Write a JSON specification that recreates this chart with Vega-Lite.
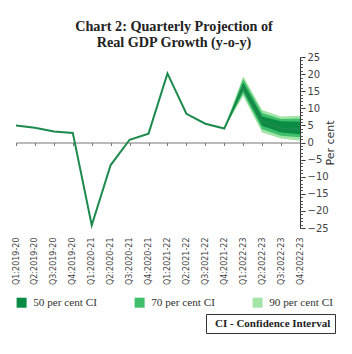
{
  "$schema": "https://vega.github.io/schema/vega-lite/v6.json",
  "width": 284,
  "height": 171,
  "padding": {"left": 12, "top": 19, "right": 0, "bottom": 0},
  "autosize": {"type": "pad"},
  "background": "white",
  "title": {
    "text": ["Chart 2: Quarterly Projection of", "Real GDP Growth (y-o-y)"],
    "font": "Liberation Serif",
    "fontWeight": "bold",
    "fontSize": 14.2,
    "lineHeight": 16,
    "color": "#222222",
    "anchor": "middle",
    "frame": "group",
    "dx": 16,
    "offset": 2
  },
  "data": {
    "values": [
      {"q": "Q1:2019-20", "v": 5.0},
      {"q": "Q2:2019-20", "v": 4.3},
      {"q": "Q3:2019-20", "v": 3.2},
      {"q": "Q4:2019-20", "v": 2.8},
      {"q": "Q1:2020-21", "v": -24.2},
      {"q": "Q2:2020-21", "v": -6.6},
      {"q": "Q3:2020-21", "v": 0.8},
      {"q": "Q4:2020-21", "v": 2.6},
      {"q": "Q1:2021-22", "v": 20.2},
      {"q": "Q2:2021-22", "v": 8.4},
      {"q": "Q3:2021-22", "v": 5.5},
      {"q": "Q4:2021-22", "v": 4.1, "l90": 4.1, "h90": 4.1, "l70": 4.1, "h70": 4.1, "l50": 4.1, "h50": 4.1},
      {"q": "Q1:2022-23", "v": 16.2, "l90": 13.6, "h90": 19.4, "l70": 14.4, "h70": 18.6, "l50": 15.2, "h50": 17.5},
      {"q": "Q2:2022-23", "v": 6.2, "l90": 2.9, "h90": 9.5, "l70": 3.9, "h70": 8.6, "l50": 4.9, "h50": 7.6},
      {"q": "Q3:2022-23", "v": 4.1, "l90": 1.2, "h90": 7.6, "l70": 2.0, "h70": 6.9, "l50": 2.9, "h50": 6.2},
      {"q": "Q4:2022-23", "v": 4.0, "l90": 0.5, "h90": 7.8, "l70": 1.5, "h70": 7.0, "l50": 2.4, "h50": 6.1}
    ]
  },
  "layer": [
    {
      "mark": {"type": "area", "opacity": 1},
      "encoding": {
        "x": {"field": "q", "type": "nominal", "axis": null, "scale": {"type": "point", "padding": 0, "domain": ["Q1:2019-20","Q2:2019-20","Q3:2019-20","Q4:2019-20","Q1:2020-21","Q2:2020-21","Q3:2020-21","Q4:2020-21","Q1:2021-22","Q2:2021-22","Q3:2021-22","Q4:2021-22","Q1:2022-23","Q2:2022-23","Q3:2022-23","Q4:2022-23"]}},
        "y": {"field": "l90", "type": "quantitative", "axis": null, "scale": {"domain": [-25, 25], "nice": false}},
        "y2": {"field": "h90"},
        "color": {"datum": "90 per cent CI"}
      }
    },
    {
      "mark": {"type": "area", "opacity": 1},
      "encoding": {
        "x": {"field": "q", "type": "nominal", "axis": null, "scale": {"type": "point", "padding": 0, "domain": ["Q1:2019-20","Q2:2019-20","Q3:2019-20","Q4:2019-20","Q1:2020-21","Q2:2020-21","Q3:2020-21","Q4:2020-21","Q1:2021-22","Q2:2021-22","Q3:2021-22","Q4:2021-22","Q1:2022-23","Q2:2022-23","Q3:2022-23","Q4:2022-23"]}},
        "y": {"field": "l70", "type": "quantitative", "axis": null, "scale": {"domain": [-25, 25], "nice": false}},
        "y2": {"field": "h70"},
        "color": {"datum": "70 per cent CI"}
      }
    },
    {
      "mark": {"type": "area", "opacity": 1},
      "encoding": {
        "x": {"field": "q", "type": "nominal", "axis": null, "scale": {"type": "point", "padding": 0, "domain": ["Q1:2019-20","Q2:2019-20","Q3:2019-20","Q4:2019-20","Q1:2020-21","Q2:2020-21","Q3:2020-21","Q4:2020-21","Q1:2021-22","Q2:2021-22","Q3:2021-22","Q4:2021-22","Q1:2022-23","Q2:2022-23","Q3:2022-23","Q4:2022-23"]}},
        "y": {"field": "l50", "type": "quantitative", "axis": null, "scale": {"domain": [-25, 25], "nice": false}},
        "y2": {"field": "h50"},
        "color": {
          "datum": "50 per cent CI",
          "scale": {"domain": ["50 per cent CI", "70 per cent CI", "90 per cent CI"], "range": ["#0b8c44", "#3fbf6c", "#a3e4a7"]},
          "legend": {
            "title": null,
            "orient": "none",
            "legendX": 0,
            "legendY": 240,
            "direction": "horizontal",
            "columns": 3,
            "columnPadding": 37,
            "symbolType": "square",
            "symbolSize": 100,
            "symbolStrokeWidth": 0,
            "labelOffset": 6,
            "labelFont": "Liberation Serif",
            "labelFontSize": 11.2,
            "labelColor": "#333333",
            "padding": 0
          }
        }
      }
    },
    {
      "mark": {"type": "line", "color": "#1c8a4d", "strokeWidth": 2},
      "encoding": {
        "x": {"field": "q", "type": "nominal",
          "scale": {"type": "point", "padding": 0, "domain": ["Q1:2019-20","Q2:2019-20","Q3:2019-20","Q4:2019-20","Q1:2020-21","Q2:2020-21","Q3:2020-21","Q4:2020-21","Q1:2021-22","Q2:2021-22","Q3:2021-22","Q4:2021-22","Q1:2022-23","Q2:2022-23","Q3:2022-23","Q4:2022-23"]},
          "axis": {"orient": "bottom", "offset": -85.5, "labels": false, "title": null, "domainColor": "#777777", "domainWidth": 1, "tickColor": "#777777", "tickSize": 3, "grid": false}
        },
        "y": {"field": "v", "type": "quantitative",
          "scale": {"domain": [-25, 25], "nice": false},
          "axis": {"orient": "right", "values": [-25,-20,-15,-10,-5,0,5,10,15,20,25], "title": "Per cent", "titleAngle": 270, "titleFont": "DejaVu Sans", "titleFontSize": 11, "titleFontWeight": "normal", "titleColor": "#333333", "titlePadding": 7, "labelFont": "DejaVu Sans", "labelFontSize": 10, "labelColor": "#444444", "labelPadding": 2, "tickSize": 5, "tickColor": "#333333", "domainColor": "#333333", "grid": false}
        }
      }
    },
    {
      "mark": {"type": "point", "opacity": 0},
      "encoding": {
        "x": {"field": "q", "type": "nominal",
          "scale": {"type": "point", "padding": 0, "domain": ["Q1:2019-20","Q2:2019-20","Q3:2019-20","Q4:2019-20","Q1:2020-21","Q2:2020-21","Q3:2020-21","Q4:2020-21","Q1:2021-22","Q2:2021-22","Q3:2021-22","Q4:2021-22","Q1:2022-23","Q2:2022-23","Q3:2022-23","Q4:2022-23"]},
          "axis": {"orient": "bottom", "domain": false, "ticks": false, "title": null, "labelAngle": 270, "labelFont": "DejaVu Sans", "labelFontSize": 8, "labelColor": "#444444", "labelPadding": 9, "grid": false}
        },
        "y": {"field": "v", "type": "quantitative",
          "scale": {"domain": [-25, 25], "nice": false},
          "axis": {"orient": "right", "values": [-25,-24,-23,-22,-21,-20,-19,-18,-17,-16,-15,-14,-13,-12,-11,-10,-9,-8,-7,-6,-5,-4,-3,-2,-1,0,1,2,3,4,5,6,7,8,9,10,11,12,13,14,15,16,17,18,19,20,21,22,23,24,25], "labels": false, "domain": false, "title": null, "tickSize": 2.5, "tickColor": "#555555", "grid": false}
        },
        "shape": {
          "datum": "CI - Confidence Interval",
          "scale": {"domain": ["CI - Confidence Interval"], "range": ["square"]},
          "legend": {
            "title": null,
            "orient": "none",
            "legendX": 190,
            "legendY": 257,
            "symbolSize": 0,
            "symbolOpacity": 0,
            "symbolStrokeWidth": 0,
            "labelOffset": -6,
            "labelFont": "Liberation Serif",
            "labelFontWeight": "bold",
            "labelFontSize": 11,
            "labelColor": "#222222",
            "padding": 4,
            "strokeColor": "#333333"
          }
        }
      }
    }
  ],
  "resolve": {"axis": {"x": "independent", "y": "independent"}},
  "config": {"view": {"stroke": null}}
}
